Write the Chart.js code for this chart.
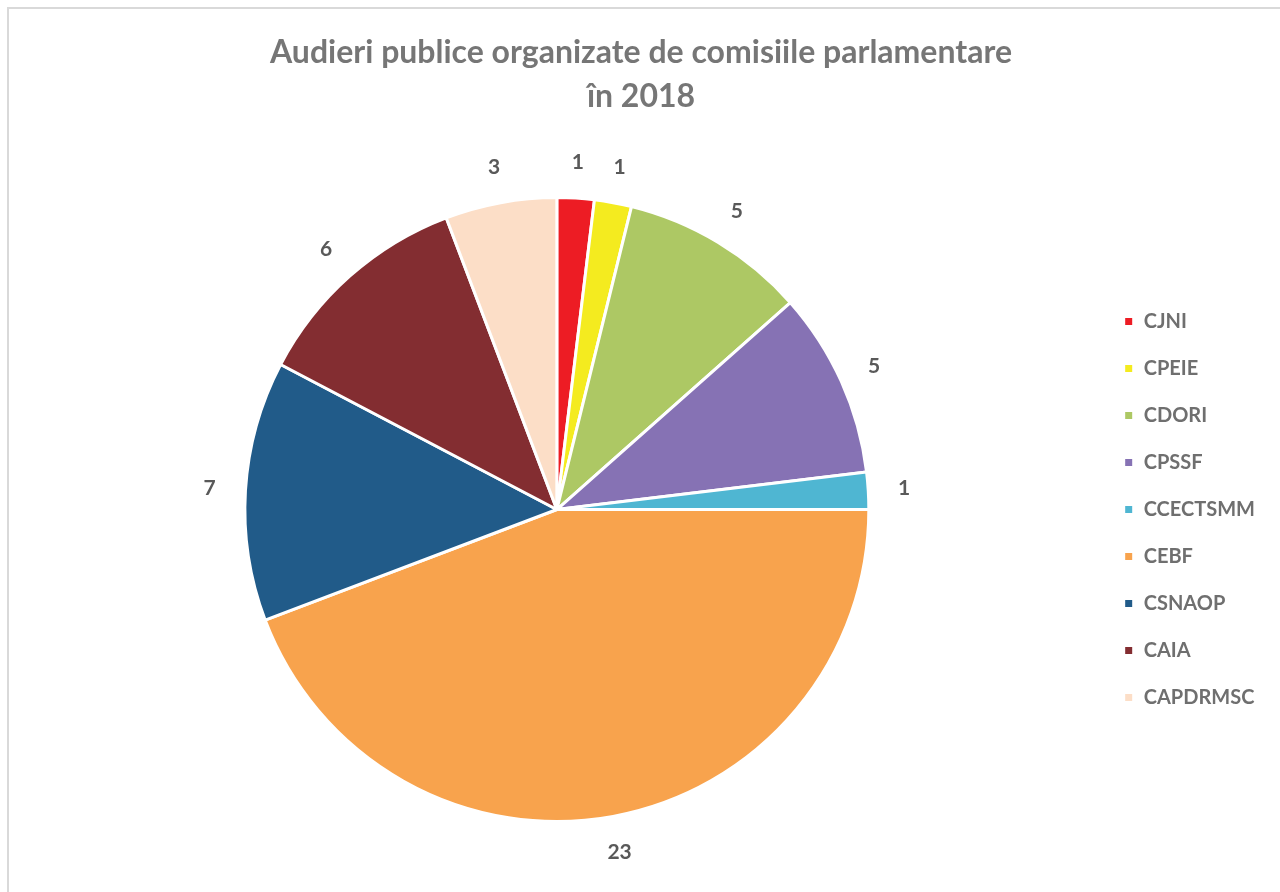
<!DOCTYPE html>
<html>
<head>
<meta charset="utf-8">
<script src="https://cdn.jsdelivr.net/npm/chart.js@4"></script>
<style>
  html, body { margin: 0; padding: 0; background: #fff; overflow: hidden; }
  #wrap { position: relative; width: 1280px; height: 892px; }
  #frame { position: absolute; left: 7px; top: 7px; width: 1300px; height: 900px; border: 2px solid #d9d9d9; box-sizing: border-box; pointer-events: none; }
  #c { position: absolute; left: 0; top: 0; }
</style>
</head>
<body>
<div id="wrap">
  <canvas id="c" width="1280" height="892"></canvas>
  <div id="frame"></div>
</div>
<script>
const categories = ['CJNI', 'CPEIE', 'CDORI', 'CPSSF', 'CCECTSMM', 'CEBF', 'CSNAOP', 'CAIA', 'CAPDRMSC'];
const hearings = [1, 1, 5, 5, 1, 23, 7, 6, 3];
const sliceColors = ['#ED1C24', '#F4EB1F', '#ADC864', '#8672B4', '#4FB6D2', '#F8A34D', '#215B89', '#832D31', '#FCDEC7'];
const titleLines = ['Audieri publice organizate de comisiile parlamentare', 'în 2018'];

const FONT = "Lato, 'Open Sans', sans-serif";

const valueLabels = {
  id: 'valueLabels',
  afterDatasetsDraw(chart) {
    const ctx = chart.ctx;
    const meta = chart.getDatasetMeta(0);
    const data = chart.data.datasets[0].data;
    ctx.save();
    ctx.font = "bold 21px " + FONT;
    ctx.fillStyle = '#595959';
    ctx.textAlign = 'center';
    ctx.textBaseline = 'middle';
    meta.data.forEach((arc, i) => {
      const p = arc.getProps(['x', 'y', 'startAngle', 'endAngle', 'outerRadius'], true);
      const mid = (p.startAngle + p.endAngle) / 2;
      const r = p.outerRadius + 36;
      ctx.fillText(String(data[i]), p.x + Math.cos(mid) * r, p.y + Math.sin(mid) * r);
    });
    ctx.restore();
  }
};

new Chart(document.getElementById('c'), {
  type: 'pie',
  data: {
    labels: categories,
    datasets: [{
      data: hearings,
      backgroundColor: sliceColors,
      borderColor: '#ffffff',
      borderWidth: 3
    }]
  },
  options: {
    responsive: false,
    animation: false,
    layout: { padding: { left: 17, right: 15, top: 0, bottom: 69 } },
    plugins: {
      tooltip: { enabled: false },
      title: {
        display: true,
        text: titleLines,
        color: '#767676',
        font: { family: FONT, size: 32, weight: 'bold', lineHeight: 1.36 },
        padding: { top: 31, bottom: 78 }
      },
      legend: {
        position: 'right',
        fullSize: false,
        labels: {
          boxWidth: 10,
          boxHeight: 10,
          padding: 27,
          color: '#6f6f6f',
          font: { family: FONT, size: 20, weight: 'bold' }
        }
      }
    }
  },
  plugins: [valueLabels]
});
</script>
</body>
</html>
